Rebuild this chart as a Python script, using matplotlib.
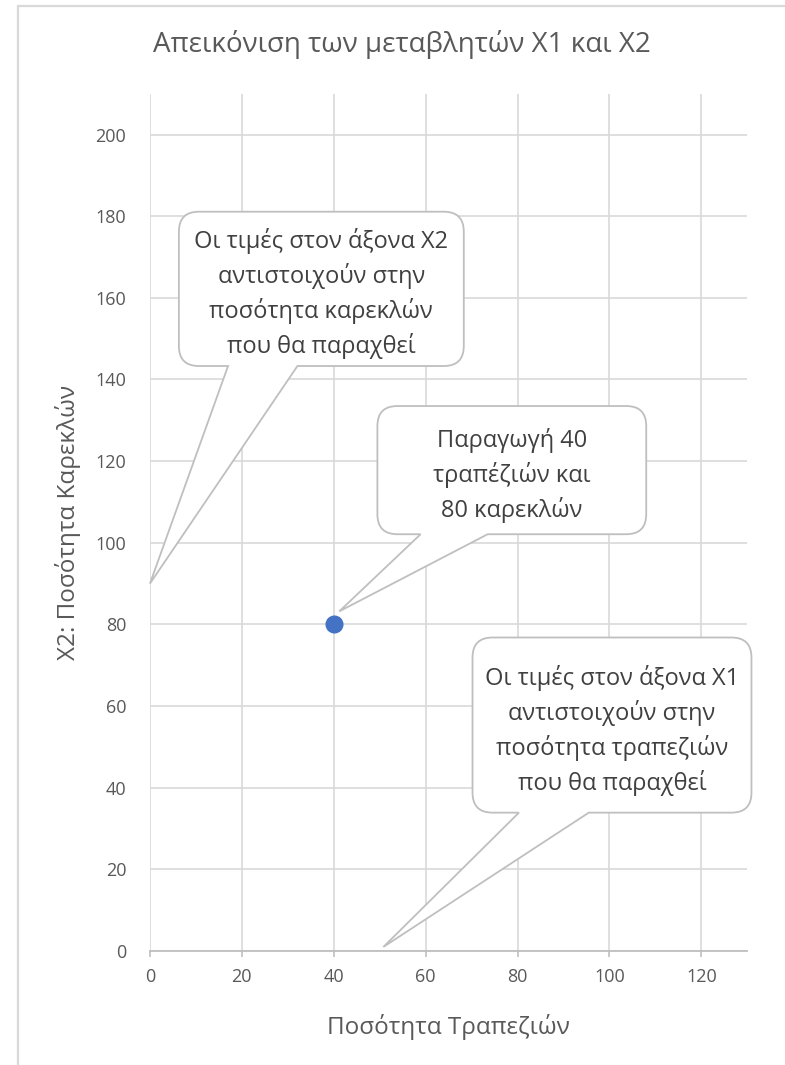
import matplotlib.pyplot as plt
from matplotlib.path import Path
from matplotlib.patches import PathPatch, Rectangle
from matplotlib.transforms import IdentityTransform

plt.rcParams['font.family'] = ['Open Sans', 'DejaVu Sans']

# data
x1 = [40]
x2 = [80]
x_ticks = [0, 20, 40, 60, 80, 100, 120]
y_ticks = [0, 20, 40, 60, 80, 100, 120, 140, 160, 180, 200]

title = "Απεικόνιση των μεταβλητών X1 και X2"
x_label = "Ποσότητα Τραπεζιών"
y_label = "X2: Ποσότητα Καρεκλών"

note_x2 = "Οι τιμές στον άξονα X2\nαντιστοιχούν στην\nποσότητα καρεκλών\nπου θα παραχθεί"
note_point = "Παραγωγή 40\nτραπέζιών και\n80 καρεκλών"
note_x1 = "Οι τιμές στον άξονα X1\nαντιστοιχούν στην\nποσότητα τραπεζιών\nπου θα παραχθεί"

grid_c = '#d9d9d9'
text_c = '#595959'

fig = plt.figure(figsize=(7.85, 10.65), dpi=100)
fig.subplots_adjust(left=0.191, right=0.952, bottom=0.107, top=0.912)
ax = fig.add_subplot(111)

# outer chart border
fig.patches.append(Rectangle((18 / 785, -0.1), 1.2, 1.1 - 6 / 1065, transform=fig.transFigure,
                             fill=False, edgecolor='#d9d9d9', linewidth=1.6))

ax.set_xlim(0, 130)
ax.set_ylim(0, 210)
ax.set_xticks(x_ticks)
ax.set_yticks(y_ticks)
ax.grid(True, color=grid_c, linewidth=1.2)
ax.set_axisbelow(True)
for s in ['top', 'right', 'left']:
    ax.spines[s].set_visible(False)
ax.spines['bottom'].set_color('#bfbfbf')
ax.spines['bottom'].set_linewidth(1.3)
ax.tick_params(axis='x', length=4.5, width=1.2, color='#bfbfbf', pad=8, labelsize=13, labelcolor=text_c)
ax.tick_params(axis='y', length=0, pad=17, labelsize=13, labelcolor=text_c)

ax.set_xlabel(x_label, fontsize=17.5, color=text_c)
ax.xaxis.set_label_coords(0.499, -0.089)
ax.xaxis.label.set_va('center')
ax.set_ylabel(y_label, fontsize=17.5, color=text_c)
ax.yaxis.set_label_coords(-0.137, 0.5)
ax.yaxis.label.set_va('center')

fig.text(402 / 785, 1 - 45 / 1065, title, ha='center', va='center', fontsize=20, color=text_c)

ax.plot(x1, x2, 'o', color='#4472c4', markersize=12, zorder=5)


def callout(box, base, tip, text, r=20):
    # rounded box with a wedge pointer, built in pixel space
    x0, x1_, y0, y1_ = box
    tr = ax.transData
    (L, B) = tr.transform((x0, y0))
    (R, T) = tr.transform((x1_, y1_))
    bl = tr.transform((base[0], y0))[0]
    br = tr.transform((base[1], y0))[0]
    tx, ty = tr.transform(tip)
    verts = [(L + r, B), (bl, B), (tx, ty), (br, B), (R - r, B),
             (R, B), (R, B + r),
             (R, T - r),
             (R, T), (R - r, T),
             (L + r, T),
             (L, T), (L, T - r),
             (L, B + r),
             (L, B), (L + r, B),
             (L + r, B)]
    codes = [Path.MOVETO, Path.LINETO, Path.LINETO, Path.LINETO, Path.LINETO,
             Path.CURVE3, Path.CURVE3,
             Path.LINETO,
             Path.CURVE3, Path.CURVE3,
             Path.LINETO,
             Path.CURVE3, Path.CURVE3,
             Path.LINETO,
             Path.CURVE3, Path.CURVE3,
             Path.CLOSEPOLY]
    patch = PathPatch(Path(verts, codes), facecolor='white', edgecolor='#bfbfbf',
                      linewidth=1.3, transform=IdentityTransform(), zorder=6, clip_on=False)
    fig.patches.append(patch)
    # text sits a few pixels below the box centre
    fig.text((L + R) / 2 / fig.bbox.width, ((B + T) / 2 - 5) / fig.bbox.height, text,
             ha='center', va='center', multialignment='center', fontsize=17,
             color='#404040', linespacing=1.45, zorder=7)


callout((6.3, 68.3, 143.3, 181.1), (17.0, 32.1), (0, 90), note_x2)
callout((49.5, 108.0, 102.1, 133.5), (58.9, 73.5), (41.2, 83.2), note_point)
callout((70.2, 130.9, 33.9, 76.8), (80.3, 95.5), (50.8, 1), note_x1)

fig.savefig('out.png', dpi=100)
